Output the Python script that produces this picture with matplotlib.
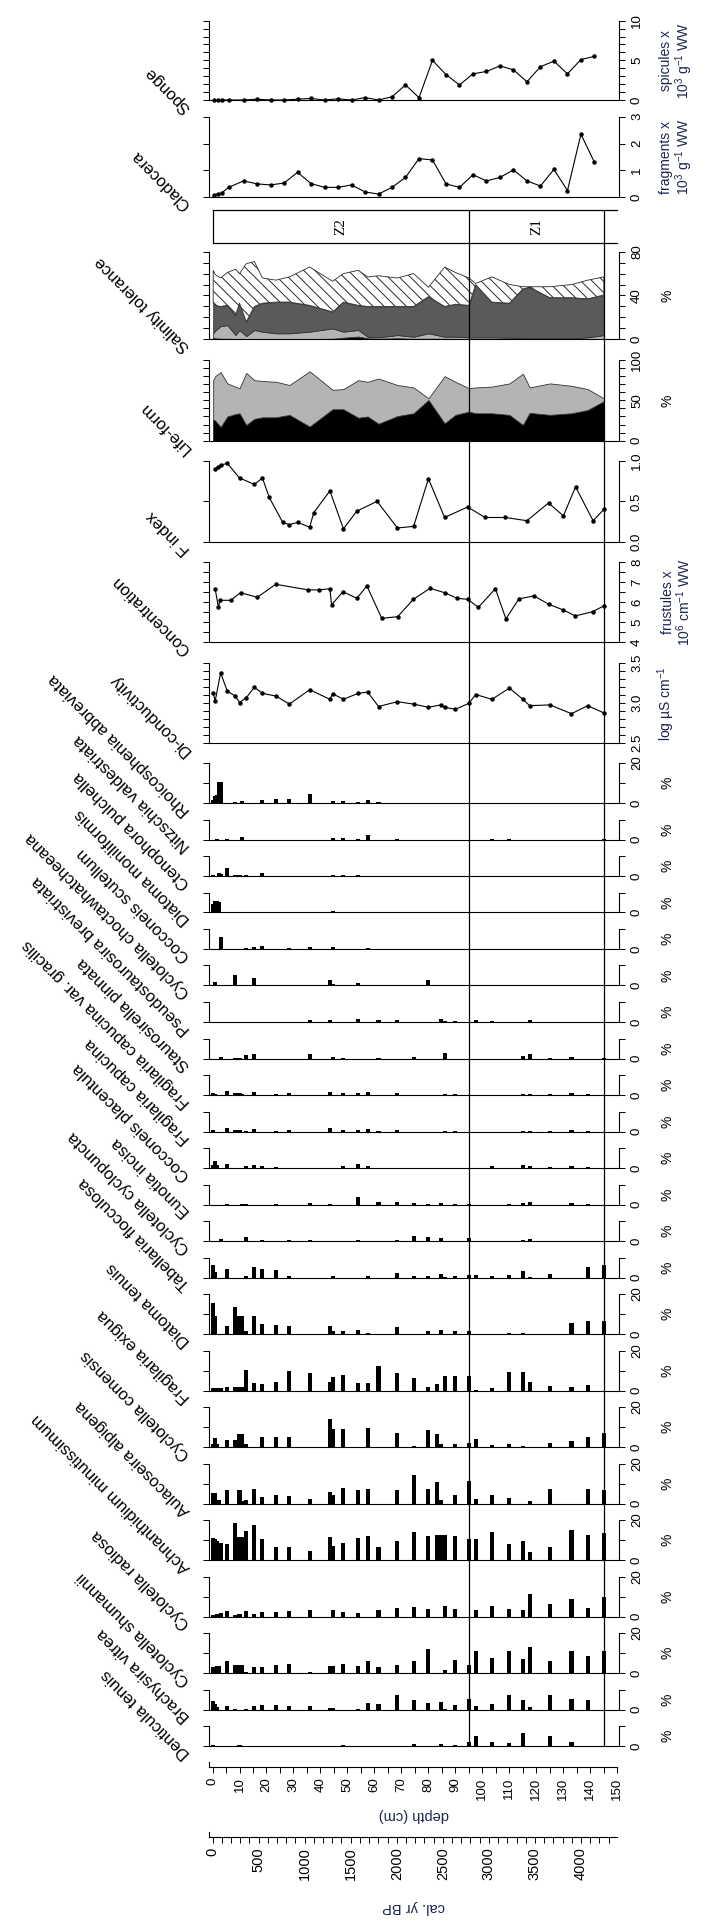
import numpy as np
import matplotlib
matplotlib.use("Agg")
import matplotlib.pyplot as plt
from matplotlib.transforms import blended_transform_factory as blend

plt.rcParams['font.family'] = ['Liberation Sans', 'DejaVu Sans']
plt.rcParams['mathtext.fontset'] = 'custom'
plt.rcParams['mathtext.rm'] = 'Liberation Sans'
plt.rcParams['mathtext.it'] = 'Liberation Sans:italic'
plt.rcParams['mathtext.bf'] = 'Liberation Sans:bold'
plt.rcParams['hatch.linewidth'] = 0.7

# ---------------------------------------------------------------- data
# diatom sample depths (cm)
sample_depth = [0.25, 1.0, 1.75, 2.5, 3.25, 5.5, 8.5, 10.0, 11.0, 12.5,
                15.5, 18.5, 23.5, 28.5, 36.0, 43.5, 44.5, 48.5, 54.0, 57.5,
                61.5, 68.5, 74.5, 80.0, 83.0, 84.5, 86.0, 90.0, 95.0, 97.5,
                103.5, 110.0, 115.0, 117.5, 125.0, 133.0, 139.0, 145.0]

taxa = ["Rhoicosphenia abbreviata", "Nitzschia valdestriata", "Ctenophora pulchella",
        "Diatoma moniliformis", "Cocconeis scutellum", "Cyclotella choctawhatcheeana",
        "Pseudostaurosira brevistriata", "Staurosirella pinnata",
        "Fragilaria capucina var. gracilis", "Fragilaria capucina", "Cocconeis placentula",
        "Eunotia incisa", "Cyclotella cyclopuncta", "Tabellaria flocculosa",
        "Diatoma tenuis", "Fragilaria exigua", "Cyclotella comensis", "Aulacoseira alpigena",
        "Achnanthidium minutissimum", "Cyclotella radiosa", "Cyclotella shumannii",
        "Brachysira vitrea", "Denticula tenuis"]

rhoicosphenia = [1.5, 3.5, 4.0, 10.5, 10.5, 0, 0.3, 0, 0.8, 0, 0, 1.3, 2.0, 2.0, 4.5, 0, 0.8, 0.8, 0.3, 1.3,
                 0.3, 0.2, 0, 0.2, 0, 0, 0, 0, 0, 0, 0, 0, 0, 0.2, 0, 0, 0, 0]
nitzschia = [0, 0, 0.3, 0, 0, 0.3, 0, 0, 1.3, 0, 0, 0, 0, 0, 0, 0, 0.8, 0.8, 0.3, 2.5,
             0, 0.3, 0, 0, 0, 0, 0, 0, 0, 0, 0.3, 0.2, 0, 0, 0, 0, 0, 0.3]
ctenophora = [0.3, 0, 0, 1.3, 0.8, 4.0, 0.5, 0.5, 0, 0.5, 0, 1.3, 0, 0, 0, 0, 0.5, 0.5, 0.5, 0,
              0, 0, 0, 0, 0, 0, 0, 0, 0, 0, 0, 0, 0, 0, 0, 0, 0, 0]
diatoma_monil = [4.0, 6.0, 6.0, 5.5, 0, 0, 0, 0, 0.3, 0, 0, 0, 0, 0.2, 0, 0, 0.8, 0, 0, 0,
                 0, 0, 0, 0, 0, 0, 0, 0, 0, 0, 0, 0, 0, 0, 0, 0, 0, 0]
cocconeis_scut = [0, 0, 0, 0, 6.0, 0, 0, 0, 0, 0.3, 1.2, 1.7, 0, 0.3, 0.8, 0, 0.8, 0, 0, 0.3,
                  0, 0, 0, 0, 0, 0, 0, 0, 0, 0, 0, 0, 0, 0, 0, 0, 0, 0]
cyclotella_choc = [0, 1.7, 0, 0, 0, 0, 5.3, 0, 0, 0, 3.7, 0, 0, 0, 0, 2.8, 0.5, 0.1, 1.3, 0,
                   0, 0, 0, 2.5, 0, 0, 0, 0, 0, 0, 0, 0.2, 0, 0, 0, 0, 0, 0]
pseudostaurosira = [0, 0, 0, 0, 0, 0, 0, 0, 0, 0, 0, 0, 0, 0, 0.8, 0.8, 0, 0, 1.3, 0,
                    0.8, 0.8, 0, 0, 0, 1.5, 0.5, 0.3, 0, 0.8, 0.3, 0, 0, 0.8, 0, 0, 0, 0]
staurosirella = [0, 0, 0, 0, 0.8, 0, 0.3, 0.5, 0, 1.8, 2.2, 0, 0, 0, 2.2, 0, 0.8, 0.1, 0, 0,
                 0.1, 0, 0.8, 0, 0, 0, 2.8, 0, 0, 0, 0, 0, 1.2, 2.2, 0.5, 0.8, 0, 0.2]
fragilaria_cg = [0.8, 0.5, 0, 0, 0, 2.0, 0.8, 0.8, 0.5, 0, 1.3, 0, 0.3, 0.8, 0, 1.7, 0, 0.8, 0.8, 1.3,
                 0, 0.8, 0, 0, 0, 0, 0.3, 0.3, 0, 0, 0, 0, 0.3, 0.3, 0.3, 0.8, 0.3, 0]
fragilaria_cap = [0.8, 0, 0, 0, 0, 2.0, 0.8, 0.8, 0, 0.5, 1.3, 0, 0.3, 0.8, 0, 2.0, 0, 0.8, 0.8, 1.3,
                  0.3, 0.8, 0, 0, 0, 0, 0.3, 0.3, 0, 0, 0, 0, 0.3, 0.3, 0.3, 0.8, 0.3, 0]
cocconeis_plac = [1.7, 3.3, 1.7, 0, 0, 2.2, 0, 0, 0, 1.2, 1.7, 1.2, 0.3, 0, 0.2, 0, 0, 1.2, 2.2, 0.8,
                  0, 0, 0, 0, 0, 0, 0, 0, 0, 0, 0.8, 0, 1.7, 1.2, 0.3, 0.8, 0.3, 0]
eunotia = [0, 0, 0, 0, 0, 0.3, 0, 0, 0.3, 0.3, 0, 0, 0.3, 0, 0.8, 0.3, 0, 0, 3.8, 0,
           1.3, 1.3, 0.8, 0.5, 0, 0.8, 0, 0.3, 0.3, 0, 0, 0.3, 0.8, 1.2, 0, 0.8, 0.3, 0]
cyclotella_cyc = [0, 0, 0, 0, 0.8, 0, 0, 0, 0, 1.8, 0, 0.5, 0.2, 0.5, 0.5, 0, 0, 0.2, 0.5, 0,
                  0, 0.5, 2.5, 1.8, 0, 1.3, 0, 0, 1.3, 0, 0, 0.2, 0.5, 0.8, 0, 0, 0, 0]
tabellaria = [6.5, 2.8, 0, 0, 0, 4.3, 0, 0, 0, 0.7, 5.3, 4.3, 3.7, 0.8, 0, 0, 0.8, 0, 0, 0.8,
              0, 2.5, 0.8, 0.8, 0, 2.0, 0.3, 0.7, 1.5, 1.5, 0.8, 1.2, 3.2, 0.3, 1.7, 0, 5.3, 6.3]
diatoma_ten = [15.5, 8.8, 0, 0, 0, 3.8, 13.7, 9.2, 9.2, 1.3, 8.8, 5.0, 4.5, 3.8, 0, 3.8, 1.7, 1.3, 2.2, 0.3,
               0, 3.3, 0, 1.3, 0, 2.2, 0, 1.7, 1.3, 0, 0, 0.3, 0.3, 0, 0.2, 5.5, 6.7, 6.7]
fragilaria_ex = [1.3, 1.3, 1.3, 1.3, 1.3, 2.0, 2.0, 2.0, 2.0, 10.3, 3.8, 3.3, 4.5, 9.7, 8.7, 4.5, 7.0, 8.0, 3.8, 3.8,
                 12.2, 8.7, 6.3, 2.0, 3.3, 0, 7.5, 7.5, 7.5, 0.3, 1.2, 9.5, 9.5, 4.5, 2.2, 1.7, 2.8, 0]
cyclotella_com = [1.3, 4.7, 1.3, 0, 0, 3.3, 3.3, 6.7, 6.7, 1.3, 0, 5.2, 5.2, 5.2, 0, 13.8, 8.8, 8.8, 0, 9.3,
                  0, 7.2, 0.5, 8.3, 6.3, 1.3, 0, 1.3, 1.8, 4.2, 0.8, 1.3, 0.5, 0, 2.2, 3.0, 5.2, 7.2]
aulacoseira = [5.3, 5.5, 2.0, 2.0, 0, 7.0, 0, 7.0, 1.3, 1.7, 7.5, 3.3, 4.5, 3.8, 2.5, 5.8, 4.5, 8.0, 6.7, 7.5,
               0, 6.7, 14.5, 7.2, 10.8, 1.7, 0, 4.5, 11.3, 2.5, 4.2, 3.0, 0, 1.3, 7.5, 0, 7.5, 7.0]
achnanthidium = [11.0, 10.5, 9.7, 8.3, 8.3, 8.0, 18.3, 11.3, 11.3, 14.3, 17.5, 10.5, 6.7, 6.7, 4.7, 11.7, 7.2, 8.3,
                 11.0, 12.2, 6.7, 9.7, 13.8, 12.2, 12.7, 12.7, 12.7, 12.2, 10.5, 10.5, 13.8, 8.0, 9.3, 3.8,
                 6.3, 15.0, 12.7, 13.3]
cyclotella_rad = [0.8, 0, 1.3, 0, 1.7, 2.8, 0.8, 1.3, 0, 2.8, 1.3, 2.5, 2.5, 2.8, 3.3, 0, 3.3, 2.5, 2.0, 0,
                  3.3, 4.5, 5.0, 3.8, 0, 0, 5.5, 3.8, 0, 3.3, 5.5, 3.8, 3.3, 11.3, 6.2, 8.7, 4.3, 9.7]
cyclotella_shu = [3.0, 3.0, 3.7, 3.7, 0, 6.2, 4.2, 4.2, 4.2, 0.5, 3.0, 3.0, 4.2, 4.7, 0.5, 3.3, 3.7, 4.7, 3.3, 5.8,
                  3.0, 4.2, 5.8, 12.0, 0, 0, 1.7, 6.7, 4.2, 11.2, 7.5, 11.2, 7.0, 13.0, 5.8, 10.8, 8.3, 11.2]
brachysira = [4.5, 2.8, 1.2, 0, 0, 1.7, 0.5, 0, 0, 0.5, 1.7, 2.2, 2.2, 1.7, 1.7, 0.8, 0.8, 0, 0.2, 3.3,
              2.8, 7.5, 5.0, 3.3, 0, 3.8, 0.5, 2.2, 5.5, 1.7, 2.8, 7.5, 5.0, 1.2, 7.2, 5.5, 5.0, 0]
denticula = [0.5, 0, 0, 0, 0, 0, 0, 0.5, 0, 0, 0, 0, 0, 0, 0, 0, 0, 0.3, 0, 0,
             0, 0, 1.0, 0, 0, 1.0, 0, 0.5, 2.2, 5.2, 2.2, 1.7, 6.3, 0, 5.2, 2.2, 0, 0]

taxa_values = [rhoicosphenia, nitzschia, ctenophora, diatoma_monil, cocconeis_scut,
               cyclotella_choc, pseudostaurosira, staurosirella, fragilaria_cg, fragilaria_cap,
               cocconeis_plac, eunotia, cyclotella_cyc, tabellaria, diatoma_ten, fragilaria_ex,
               cyclotella_com, aulacoseira, achnanthidium, cyclotella_rad, cyclotella_shu,
               brachysira, denticula]

# sponge spicules and cladocera fragments (x 10^3 g-1 WW)
remains_depth = [0.5, 2.0, 3.5, 6.0, 11.5, 16.5, 21.5, 26.5, 31.5, 36.5, 41.5, 46.5, 51.5, 56.5,
                 61.5, 66.5, 71.5, 76.5, 81.5, 86.5, 91.5, 96.5, 101.5, 106.5, 111.5, 116.5,
                 121.5, 126.5, 131.5, 136.5, 141.5]
sponge = [0, 0, 0, 0, 0, 0.1, 0, 0, 0.1, 0.2, 0, 0.15, 0, 0.3, 0, 0.4, 1.9, 0.3, 5.0,
          3.2, 1.9, 3.3, 3.6, 4.3, 3.8, 2.3, 4.2, 4.9, 3.3, 5.1, 5.5]
cladocera = [0.09, 0.12, 0.17, 0.37, 0.61, 0.50, 0.46, 0.53, 0.93, 0.51, 0.37, 0.37, 0.46, 0.20,
             0.12, 0.37, 0.74, 1.44, 1.39, 0.50, 0.37, 0.84, 0.61, 0.74, 1.02, 0.61, 0.42, 1.04,
             0.25, 2.35, 1.30]

# life-form and salinity tolerance groups (%)
group_depth = [0.25, 1.0, 3.0, 5.5, 8.5, 10.0, 12.5, 15.5, 18.5, 23.5, 28.5, 36.0, 44.5, 48.5,
               54.0, 57.5, 61.5, 68.5, 74.5, 80.0, 86.0, 90.0, 95.0, 97.5, 103.5, 110.0, 115.0,
               117.5, 125.0, 133.0, 139.0, 145.0]
lifeform_plankton = [26, 25, 17, 30, 33, 34, 19.5, 27, 29, 29, 32, 17.5, 39, 39, 28.5, 30, 21, 30.5,
                     34, 50.5, 21.5, 32, 36, 34, 34, 32, 19.5, 34.5, 32, 34, 38, 49]
lifeform_benthic = [49, 55, 68, 41, 34, 31, 64.5, 48, 45, 44, 37, 68.5, 24, 25, 46.5, 43, 56, 38.5,
                    32, 2, 58.5, 41, 29, 32, 33, 39, 63.5, 31.5, 39, 34, 26, 3.5]
salinity_g1 = [1.5, 1, 0.5, 0.5, 0.3, 0.3, 0.3, 0.3, 0.3, 0.3, 0.3, 0.3, 0.5, 1.5, 2.5, 1, 0.5, 1,
               0.5, 0.5, 0.5, 0.3, 0.3, 0.3, 0.3, 0.3, 0.3, 0.3, 0.3, 0.3, 0.3, 0.3]
salinity_g2 = [4, 7, 11.5, 12.5, 3.7, 8.2, 2.7, 8.2, 6.7, 5.2, 5.2, 6.7, 9.5, 5.5, 6, 1.4, 1.3, 2.9,
               1.9, 5, 1.9, 2.1, 1.5, 1.5, 1.5, 1.2, 0.7, 0.6, 0.6, 0.6, 1.5, 3.6]
salinity_g3 = [27.5, 23, 18, 18, 18, 24.5, 13, 21.5, 26, 28.5, 28.5, 24, 15, 27, 22.5, 27.6, 28.2,
               26.1, 27.6, 33.5, 27.6, 29.6, 29.2, 48.2, 32.2, 31.5, 45, 46.6, 37.1, 37.1, 35.2, 36.6]
salinity_g4 = [30, 28, 26, 30, 42, 27, 53, 41, 23, 20, 23, 35, 28, 26, 32, 27, 28, 26, 30, 8.5, 36,
               29, 25, 1, 23, 17, 2, 0.5, 10, 12, 17, 16.5]

# F index
f_depth = [1.0, 2.0, 3.0, 5.5, 10.0, 15.5, 18.5, 21.0, 26.0, 28.5, 31.5, 36.0, 37.5, 43.5, 48.5,
           53.5, 61.0, 68.5, 74.5, 80.0, 86.0, 94.5, 101.0, 108.5, 116.5, 124.5, 130.0, 134.5,
           141.0, 145.0]
f_index = [0.90, 0.93, 0.95, 0.97, 0.79, 0.71, 0.79, 0.55, 0.24, 0.21, 0.24, 0.18, 0.36, 0.63,
           0.16, 0.38, 0.50, 0.17, 0.19, 0.78, 0.30, 0.43, 0.30, 0.30, 0.26, 0.48, 0.32, 0.68,
           0.26, 0.40]

# frustule concentration (x 10^6 cm-1 WW)
conc_depth = [1.0, 2.2, 2.8, 6.7, 10.4, 16.6, 23.4, 35.5, 39.5, 43.5, 44.1, 48.3, 53.5, 57.2, 62.7,
              68.6, 74.4, 80.6, 86.0, 90.6, 94.5, 98.5, 104.8, 108.7, 113.5, 119.1, 124.6, 129.9,
              134.4, 140.8, 145.0]
concentration = [6.65, 5.75, 6.1, 6.1, 6.48, 6.25, 6.9, 6.62, 6.62, 6.68, 5.87, 6.53, 6.2, 6.82,
                 5.2, 5.28, 6.15, 6.7, 6.48, 6.2, 6.15, 5.75, 6.68, 5.17, 6.17, 6.32, 5.9, 5.62,
                 5.32, 5.53, 5.82]

# diatom-inferred conductivity (log uS cm-1)
cond_depth = [0.25, 1.0, 3.0, 5.5, 8.5, 10.0, 12.5, 15.5, 18.5, 23.5, 28.5, 36.0, 43.5, 44.5,
              48.5, 54.0, 57.5, 61.5, 68.5, 74.5, 80.0, 84.5, 86.0, 90.0, 95.0, 97.5, 103.5,
              110.0, 115.0, 117.5, 125.0, 133.0, 139.0, 145.0]
conductivity = [3.125, 3.03, 3.38, 3.15, 3.09, 3.01, 3.07, 3.2, 3.125, 3.09, 2.99, 3.17, 3.05,
                3.12, 3.05, 3.125, 3.14, 2.96, 3.02, 2.99, 2.95, 2.98, 2.95, 2.925, 3.0, 3.11,
                3.05, 3.19, 3.05, 2.97, 2.98, 2.87, 2.97, 2.88]

zone_bounds = [0, 95, 145]
zone_names = ["Z2", "Z1"]
AGE_PER_CM = 29.3          # cal. yr BP per cm of core

# ---------------------------------------------------------------- layout
W, H, DPI = 707, 1932, 100
fig = plt.figure(figsize=(W / DPI, H / DPI), dpi=DPI)
fig.patch.set_facecolor('white')

L, R = 209, 619
XLIM = (-1.3, 150.6)
TICKLAB_X = 637
UNIT_COLOR = '#1b2550'
NAME_SIZE = 12
TICK_SIZE = 9.5


def rect(top, bottom):
    return [L / W, 1 - bottom / H, (R - L) / W, (bottom - top) / H]


def panel(top, bottom, ylim, major, minor=()):
    ax = fig.add_axes(rect(top, bottom))
    ax.set_xlim(XLIM)
    ax.set_ylim(ylim)
    ax.patch.set_visible(False)
    ax.spines['top'].set_visible(False)
    for s in ('left', 'right', 'bottom'):
        ax.spines[s].set_linewidth(0.8)
    ax.set_xticks([])
    ax.set_yticks(major)
    ax.set_yticks(list(minor), minor=True)
    ax.tick_params(axis='y', which='both', left=True, right=True, direction='out',
                   length=4.5, width=0.7, labelleft=False, labelright=False)
    return ax


def right_labels(ax, values, texts):
    tr = blend(fig.transFigure, ax.transData)
    for v, s in zip(values, texts):
        ax.text(TICKLAB_X / W, v, s, transform=tr, rotation=90, rotation_mode='anchor',
                ha='center', va='center', fontsize=TICK_SIZE, clip_on=False)


def name_label(baseline, text):
    fig.text(188 / W, 1 - (baseline + 10) / H, text, rotation=135, rotation_mode='anchor',
             ha='left', va='center', fontsize=NAME_SIZE)


def unit_label(top, bottom, text, x, color=UNIT_COLOR, size=10):
    fig.text(x / W, 1 - (top + bottom) / 2 / H, text, rotation=90, ha='center', va='center',
             fontsize=size, color=color, multialignment='center', linespacing=1.0)


def line_panel(ax, d, v):
    ax.plot(d, v, color='black', lw=0.8, marker='o', ms=2.2, mfc='black', mec='black',
            clip_on=False)


# Sponge
ax = panel(20.7, 100, (0, 10), [0, 5, 10], [1, 2, 3, 4, 6, 7, 8, 9])
line_panel(ax, remains_depth, sponge)
right_labels(ax, [0, 5, 10], ["0", "5", "10"])
name_label(100, "Sponge")
unit_label(20.7, 100, "spicules x\n10$^{3}$ g$^{-1}$ WW", 677)

# Cladocera
ax = panel(116.7, 197.3, (0, 3), [0, 1, 2, 3])
line_panel(ax, remains_depth, cladocera)
right_labels(ax, [0, 1, 2, 3], ["0", "1", "2", "3"])
name_label(197.3, "Cladocera")
unit_label(116.7, 197.3, "fragments x\n10$^{3}$ g$^{-1}$ WW", 677)

# Zones
axz = fig.add_axes(rect(210, 242.7))
axz.set_xlim(XLIM)
axz.set_ylim(0, 1)
axz.patch.set_visible(False)
for s in ('left', 'right'):
    axz.spines[s].set_visible(False)
for s in ('top', 'bottom'):
    axz.spines[s].set_bounds(0, 150)
    axz.spines[s].set_linewidth(0.9)
axz.set_xticks([])
axz.set_yticks([])
axz.axvline(zone_bounds[0], color='black', lw=0.9)
for z0, z1, zn in zip(zone_bounds[:-1], zone_bounds[1:], zone_names):
    axz.text((z0 + z1) / 2, 0.5, zn, rotation=90, ha='center', va='center',
             fontsize=11, family=['Liberation Serif', 'DejaVu Serif'])

# Salinity tolerance
ax = panel(251.7, 339.3, (0, 80), [0, 40, 80], [10, 20, 30, 50, 60, 70])
gd = np.array(group_depth)
layers = [np.array(salinity_g1), np.array(salinity_g2), np.array(salinity_g3), np.array(salinity_g4)]
styles = [dict(facecolor='black', edgecolor='#222222'),
          dict(facecolor='#b4b4b4', edgecolor='#333333'),
          dict(facecolor='#5a5a5a', edgecolor='#333333'),
          dict(facecolor='white', edgecolor='#2a2a2a', hatch='\\\\\\')]
base = np.zeros_like(gd)
for lay, st in zip(layers, styles):
    ax.fill_between(gd, base, base + lay, linewidth=0.6, **st)
    base = base + lay
right_labels(ax, [0, 40, 80], ["0", "40", "80"])
name_label(339.3, "Salinity tolerance")
unit_label(251.7, 339.3, "%", 668, color='black')

# Life-form
ax = panel(360, 440.7, (0, 100), [0, 50, 100], [10, 20, 30, 40, 60, 70, 80, 90])
plank = np.array(lifeform_plankton)
benth = np.array(lifeform_benthic)
ax.fill_between(gd, 0, plank, facecolor='black', edgecolor='black', linewidth=0.5)
ax.fill_between(gd, plank, plank + benth, facecolor='#b4b4b4', edgecolor='#333333', linewidth=0.6)
right_labels(ax, [0, 50, 100], ["0", "50", "100"])
name_label(440.7, "Life-form")
unit_label(360, 440.7, "%", 668, color='black')

# F index
ax = panel(461, 541.7, (0, 1), [0, 0.5, 1.0])
line_panel(ax, f_depth, f_index)
right_labels(ax, [0, 0.5, 1.0], ["0.0", "0.5", "1.0"])
name_label(541.7, "F index")

# Concentration
ax = panel(562.3, 642.3, (4, 8), [4, 5, 6, 7, 8], [4.5, 5.5, 6.5, 7.5])
line_panel(ax, conc_depth, concentration)
right_labels(ax, [4, 5, 6, 7, 8], ["4", "5", "6", "7", "8"])
name_label(642.3, "Concentration")
unit_label(562.3, 642.3, "frustules x\n10$^{6}$ cm$^{-1}$ WW", 677)

# Di-conductivity
ax = panel(663.3, 743.3, (2.5, 3.5), [2.5, 3.0, 3.5],
           [2.6, 2.7, 2.8, 2.9, 3.1, 3.2, 3.3, 3.4])
line_panel(ax, cond_depth, conductivity)
right_labels(ax, [2.5, 3.0, 3.5], ["2.5", "3.0", "3.5"])
name_label(743.3, "Di-conductivity")
unit_label(663.3, 743.3, "log µS cm$^{-1}$", 666)

# Diatom taxa (%), 2 px per percent
PX_PER_PCT = 2.0
GAP = 16.5
top = 763.0
last_base = None
for name, vals in zip(taxa, taxa_values):
    vmax = 10 * int(np.ceil(max(vals) / 10.0))
    h = vmax * PX_PER_PCT
    bottom = top + h
    ax = panel(top, bottom, (0, vmax), [0, vmax] if vmax > 10 else [0],
               [10] if vmax > 10 else [10])
    v = np.array(vals)
    d = np.array(sample_depth)
    keep = v > 0
    ax.bar(d[keep], v[keep], width=1.5, color='black', linewidth=0, clip_on=False)
    if vmax > 10:
        right_labels(ax, [0, vmax], ["0", str(vmax)])
    else:
        right_labels(ax, [0], ["0"])
    name_label(bottom, name)
    unit_label(top, bottom, "%", 668, color='black')
    last_base = bottom
    top = bottom + GAP

# zone boundaries running down through the diagram
axo = fig.add_axes(rect(210, last_base))
axo.set_xlim(XLIM)
axo.set_ylim(0, 1)
axo.axis('off')
for zb in zone_bounds[1:]:
    axo.axvline(zb, color='black', lw=0.9)

# depth axis
axd = fig.add_axes(rect(1762, 1767))
axd.set_xlim(XLIM)
axd.set_ylim(0, 1)
axd.patch.set_visible(False)
for s in ('top', 'left', 'right'):
    axd.spines[s].set_visible(False)
axd.spines['bottom'].set_bounds(XLIM[0], 150)
axd.spines['bottom'].set_linewidth(0.8)
axd.set_yticks([])
dticks = list(range(0, 151, 5))
axd.set_xticks(dticks, [str(t) if t % 10 == 0 else "" for t in dticks])
axd.tick_params(axis='x', length=4.5, width=0.7, pad=3, labelrotation=90, labelsize=TICK_SIZE)
axd.plot([XLIM[0], XLIM[0]], [0, 1], color='black', lw=0.8, clip_on=False)
fig.text((L + R) / 2 / W, 1 - 1815 / H, "depth (cm)", rotation=180, ha='center', va='center',
         fontsize=10.5, color=UNIT_COLOR)

# age axis
axa = fig.add_axes(rect(1832, 1837))
axa.set_xlim(XLIM[0] * AGE_PER_CM, XLIM[1] * AGE_PER_CM)
axa.set_ylim(0, 1)
axa.patch.set_visible(False)
for s in ('top', 'left', 'right'):
    axa.spines[s].set_visible(False)
axa.spines['bottom'].set_bounds(XLIM[0] * AGE_PER_CM, 150 * AGE_PER_CM)
axa.spines['bottom'].set_linewidth(0.8)
axa.set_yticks([])
aticks = list(range(0, 4400, 100))
axa.set_xticks(aticks, [str(t) if t % 500 == 0 else "" for t in aticks])
axa.tick_params(axis='x', length=4.5, width=0.7, pad=3, labelrotation=90, labelsize=10.5)
axa.plot([XLIM[0] * AGE_PER_CM] * 2, [0, 1], color='black', lw=0.8, clip_on=False)
fig.text((L + R) / 2 / W, 1 - 1907 / H, "cal. yr BP", rotation=180, ha='center', va='center',
         fontsize=10.5, color=UNIT_COLOR)

fig.savefig("out.png", dpi=DPI, facecolor='white')
